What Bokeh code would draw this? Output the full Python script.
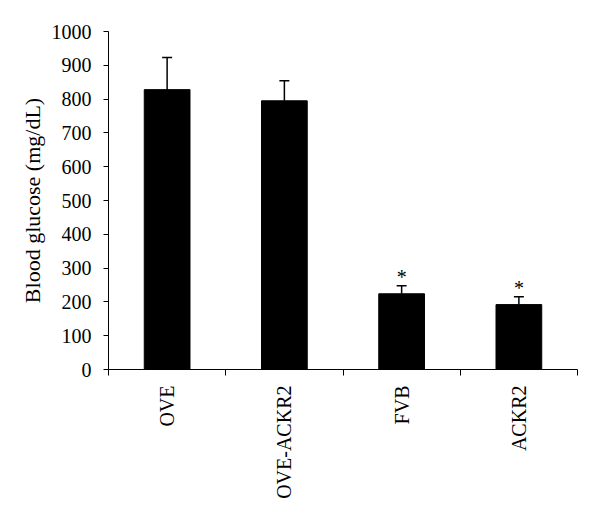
import math
from bokeh.plotting import figure
from bokeh.models import ColumnDataSource, FixedTicker, Whisker, TeeHead, Range1d
from bokeh.core.properties import value
from bokeh.embed import file_html
from bokeh.resources import INLINE

categories = ["OVE", "OVE-ACKR2", "FVB", "ACKR2"]
glucose = [828, 795, 224, 192]
sem = [95, 59, 24, 23]
significant = ["", "", "*", "*"]
y_ticks = [0, 100, 200, 300, 400, 500, 600, 700, 800, 900, 1000]

FONT = "Liberation Serif"

xs = [i + 0.5 for i in range(len(categories))]
tops = [g + e for g, e in zip(glucose, sem)]
src = ColumnDataSource(dict(x=xs, y=glucose, top=tops, sig=significant))

p = figure(width=600, height=520, output_backend="svg", toolbar_location=None,
           x_range=Range1d(0, len(categories)), y_range=Range1d(0, 1000),
           min_border_left=108, min_border_right=23, min_border_top=31, min_border_bottom=151)
p.outline_line_color = None
p.xgrid.visible = False
p.ygrid.visible = False
p.background_fill_color = "white"
p.border_fill_color = "white"

p.vbar(x="x", top="y", bottom=0, width=0.39, source=src, fill_color="black", line_color="black")

w = Whisker(base="x", lower="y", upper="top", source=src, line_color="black", line_width=1.5,
            lower_head=None, upper_head=TeeHead(size=10, line_color="black", line_width=1.5))
p.add_layout(w)

p.text(x="x", y="top", text="sig", source=src, text_align="center", text_baseline="bottom",
       text_font=value(FONT), text_font_size="20px", text_color="black", y_offset=2)

# x axis: ticks at category boundaries (minor), labels at centers
p.xaxis.ticker = FixedTicker(ticks=xs, minor_ticks=list(range(len(categories) + 1)))
p.xaxis.major_label_overrides = {x: c for x, c in zip(xs, categories)}
p.xaxis.major_tick_out = 0
p.xaxis.major_tick_in = 0
p.xaxis.minor_tick_out = 6
p.xaxis.minor_tick_in = 0
p.xaxis.minor_tick_line_color = "black"
p.xaxis.major_label_orientation = math.pi / 2
p.xaxis.major_label_standoff = 10
p.xaxis.major_label_text_font = FONT
p.xaxis.major_label_text_font_size = "20px"
p.xaxis.major_label_text_color = "black"
p.xaxis.axis_line_color = "black"

p.yaxis.ticker = FixedTicker(ticks=y_ticks)
p.yaxis.minor_tick_line_color = None
p.yaxis.major_tick_out = 5
p.yaxis.major_tick_in = 0
p.yaxis.major_tick_line_color = "black"
p.yaxis.axis_line_color = "black"
p.yaxis.major_label_standoff = 12
p.yaxis.major_label_text_font = FONT
p.yaxis.major_label_text_font_size = "20px"
p.yaxis.major_label_text_color = "black"
p.yaxis.axis_label = "Blood glucose (mg/dL)"
p.yaxis.axis_label_text_font = FONT
p.yaxis.axis_label_text_font_size = "22px"
p.yaxis.axis_label_text_font_style = "normal"
p.yaxis.axis_label_text_color = "black"
p.yaxis.axis_label_standoff = 4

open("out.html", "w").write(file_html(p, INLINE))
